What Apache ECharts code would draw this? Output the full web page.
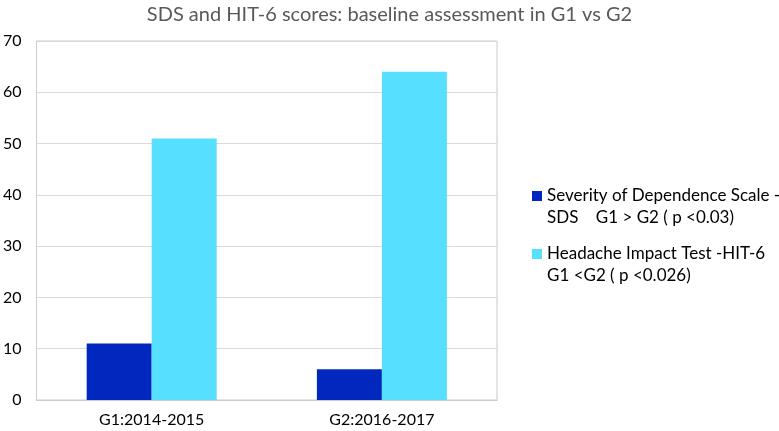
<!DOCTYPE html>
<html>
<head>
<meta charset="utf-8">
<script src="https://cdn.jsdelivr.net/npm/echarts@6/dist/echarts.min.js"></script>
<style>
  html, body { margin: 0; padding: 0; background: #fff; }
  #chart { width: 779px; height: 431px; }
</style>
</head>
<body>
<div id="chart"></div>
<script>
const categories = ['G1:2014-2015', 'G2:2016-2017']
const sdsName = 'Severity of Dependence Scale -\nSDS    G1 > G2 ( p <0.03)'
const hitName = 'Headache Impact Test -HIT-6\nG1 <G2 ( p <0.026)'
const sdsValues = [11, 6]
const hitValues = [51, 64]
const yTicks = [0, 70, 10] // min, max, interval

const font = 'Lato'
// square on the first text line of a two-line legend entry
const legendIcon = 'path://M0,6L10,6L10,16L0,16Z M0,0L0,0 M0,44L0,44'
const chart = echarts.init(document.getElementById('chart'))

chart.setOption({
  backgroundColor: '#fff',
  animation: false,
  title: {
    text: 'SDS and HIT-6 scores: baseline assessment in G1 vs G2',
    left: 'center',
    top: 0,
    textStyle: { fontFamily: font, fontSize: 20, fontWeight: 'normal', color: '#595959' }
  },
  legend: {
    orient: 'vertical',
    left: 527,
    top: 180,
    itemWidth: 10,
    itemHeight: 44,
    itemGap: 14,
    icon: legendIcon,
    textStyle: { fontFamily: font, fontSize: 17, color: '#000', lineHeight: 22 }
  },
  grid: {
    left: 36, right: 282, top: 41, bottom: 31,
    show: true, borderColor: '#c8cccc', borderWidth: 1
  },
  xAxis: {
    type: 'category',
    data: categories,
    axisLine: { lineStyle: { color: '#c8cccc' } },
    axisTick: { show: false },
    axisLabel: { fontFamily: font, fontSize: 16, color: '#000', margin: 12 }
  },
  yAxis: {
    type: 'value',
    min: yTicks[0], max: yTicks[1], interval: yTicks[2],
    axisLine: { show: false },
    axisTick: { show: false },
    splitLine: { lineStyle: { color: '#d9d9d9' } },
    axisLabel: { fontFamily: font, fontSize: 16, color: '#000', margin: 15 }
  },
  series: [
    {
      name: sdsName, type: 'bar', data: sdsValues,
      barWidth: 65, barGap: '0%',
      itemStyle: { color: '#0028be' }
    },
    {
      name: hitName, type: 'bar', data: hitValues,
      barWidth: 65, barGap: '0%',
      itemStyle: { color: '#56dfff' }
    }
  ]
})
</script>
</body>
</html>
